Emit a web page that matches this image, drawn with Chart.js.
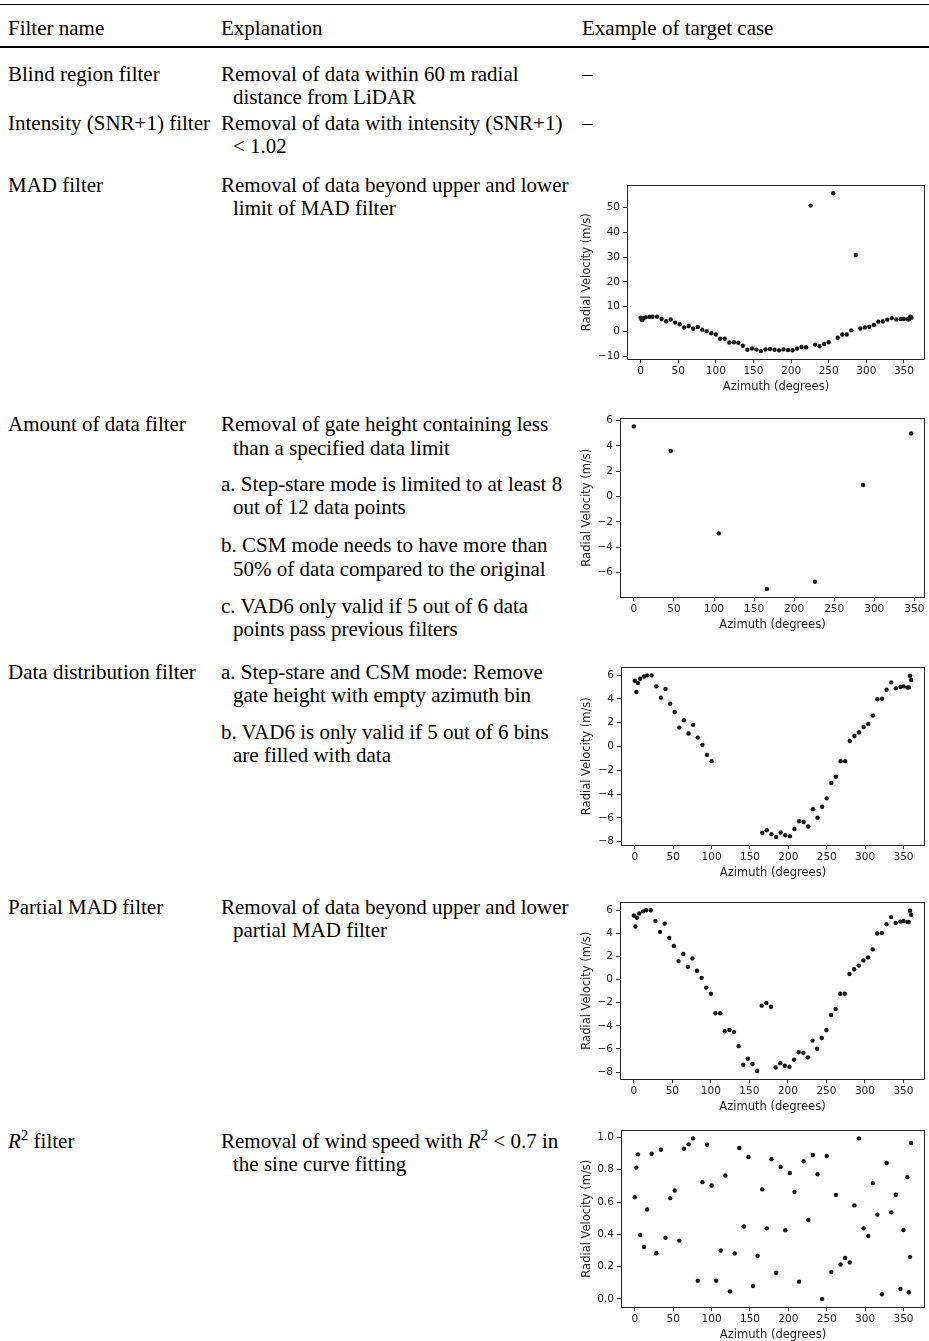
<!DOCTYPE html>
<html>
<head>
<meta charset="utf-8">
<script src="https://cdn.jsdelivr.net/npm/chart.js@4.4.1/dist/chart.umd.min.js"></script>
<style>
  html, body { margin: 0; padding: 0; background: #fff; }
  #page { position: relative; width: 929px; height: 1341px; overflow: hidden;
          font-family: "Liberation Serif", "Times New Roman", serif; font-size: 21px; color: #000; }
  .t { position: absolute; white-space: nowrap; line-height: 23px; }
  .sup { position: relative; top: -8px; font-size: 15px; }
  .rule { position: absolute; left: 0; width: 929px; background: #000; }
  canvas { position: absolute; left: 575px; }
</style>
</head>
<body>
<div id="page">
  <div class="rule" style="top:4px;height:1px"></div>
  <div class="t" style="left:8px;top:17px">Filter name</div>
  <div class="t" style="left:221px;top:17px">Explanation</div>
  <div class="t" style="left:582px;top:17px">Example of target case</div>
  <div class="rule" style="top:46px;height:2px"></div>

  <div class="t" style="left:8px;top:63px">Blind region filter</div>
  <div class="t" style="left:221px;top:63px">Removal of data within 60&#8201;m radial</div>
  <div class="t" style="left:233px;top:86px">distance from LiDAR</div>
  <div class="t" style="left:582px;top:63px">&ndash;</div>

  <div class="t" style="left:8px;top:112px">Intensity (SNR+1) filter</div>
  <div class="t" style="left:221px;top:112px">Removal of data with intensity (SNR+1)</div>
  <div class="t" style="left:233px;top:135px">&lt; 1.02</div>
  <div class="t" style="left:582px;top:112px">&ndash;</div>

  <div class="t" style="left:8px;top:174px">MAD filter</div>
  <div class="t" style="left:221px;top:174px">Removal of data beyond upper and lower</div>
  <div class="t" style="left:233px;top:197px">limit of MAD filter</div>

  <div class="t" style="left:8px;top:413px">Amount of data filter</div>
  <div class="t" style="left:221px;top:413px">Removal of gate height containing less</div>
  <div class="t" style="left:233px;top:437px">than a specified data limit</div>
  <div class="t" style="left:221px;top:473px">a. Step-stare mode is limited to at least 8</div>
  <div class="t" style="left:233px;top:496px">out of 12 data points</div>
  <div class="t" style="left:221px;top:534px">b. CSM mode needs to have more than</div>
  <div class="t" style="left:233px;top:558px">50% of data compared to the original</div>
  <div class="t" style="left:221px;top:595px">c. VAD6 only valid if 5 out of 6 data</div>
  <div class="t" style="left:233px;top:618px">points pass previous filters</div>

  <div class="t" style="left:8px;top:661px">Data distribution filter</div>
  <div class="t" style="left:221px;top:661px">a. Step-stare and CSM mode: Remove</div>
  <div class="t" style="left:233px;top:684px">gate height with empty azimuth bin</div>
  <div class="t" style="left:221px;top:721px">b. VAD6 is only valid if 5 out of 6 bins</div>
  <div class="t" style="left:233px;top:744px">are filled with data</div>

  <div class="t" style="left:8px;top:896px">Partial MAD filter</div>
  <div class="t" style="left:221px;top:896px">Removal of data beyond upper and lower</div>
  <div class="t" style="left:233px;top:919px">partial MAD filter</div>

  <div class="t" style="left:8px;top:1130px"><i>R</i><span class="sup">2</span> filter</div>
  <div class="t" style="left:221px;top:1130px">Removal of wind speed with <i>R</i><span class="sup">2</span> &lt; 0.7 in</div>
  <div class="t" style="left:233px;top:1153px">the sine curve fitting</div>

  <canvas id="mad" width="354" height="218" style="top:176px"></canvas>
  <canvas id="amount" width="354" height="223" style="top:409px"></canvas>
  <canvas id="dist" width="354" height="222" style="top:658px"></canvas>
  <canvas id="partial" width="354" height="221" style="top:893px"></canvas>
  <canvas id="r2" width="354" height="221" style="top:1121px"></canvas>
</div>

<script>
// azimuth of every beam (degrees)
const azimuth = [0, 2, 4, 7, 12, 16, 22, 28, 34, 40, 46, 52, 58, 64, 70, 76, 82, 88, 94, 100,
  106, 112, 118, 124, 130, 136, 142, 148, 154, 160, 166, 172, 178, 184, 190, 196, 202, 208, 214, 220,
  226, 232, 238, 244, 250, 256, 262, 268, 274, 280, 286, 292, 298, 304, 310, 316, 322, 328, 334, 340,
  346, 350, 355, 357, 358.5, 360];

// MAD filter example (with 3 spikes)
const madVelocity = [5.53, 4.58, 5.34, 5.70, 5.89, 5.98, 5.98, 5.06, 4.11, 4.83, 3.60, 2.90, 1.59, 2.21, 1.09, 1.82, 0.75, 0.14, -0.70, -1.23,
  -2.92, -2.92, -4.47, -4.36, -4.53, -5.76, -7.37, -6.85, -7.31, -7.91, -7.26, -7.04, -7.37, -7.60, -7.23, -7.46, -7.54, -6.93, -6.28, -6.34,
  50.8, -5.28, -5.98, -5.06, -4.36, 55.8, -2.54, -1.23, -1.23, 0.47, 30.9, 1.20, 1.65, 1.90, 2.60, 3.97, 4.02, 4.78, 5.39, 4.89,
  5.00, 5.06, 4.97, 4.97, 5.95, 5.59];

// amount of data example (step-stare, 7 beams)
const amountAzimuth = [0, 46, 106, 166, 226, 286, 346];
const amountVelocity = [5.53, 3.60, -2.92, -7.30, -6.74, 0.90, 4.97];

// data distribution example (empty bin between 100 and 166)
const distVelocity = [5.53, 4.58, 5.34, 5.70, 5.89, 5.98, 5.98, 5.06, 4.11, 4.83, 3.60, 2.90, 1.59, 2.21, 1.09, 1.82, 0.75, 0.14, -0.70, -1.23,
  null, null, null, null, null, null, null, null, null, null, -7.26, -7.04, -7.37, -7.60, -7.23, -7.46, -7.54, -6.93, -6.28, -6.34,
  -6.73, -5.28, -5.98, -5.06, -4.36, -3.07, -2.54, -1.23, -1.23, 0.47, 0.89, 1.20, 1.65, 1.90, 2.60, 3.97, 4.02, 4.78, 5.39, 4.89,
  5.00, 5.06, 4.97, 4.97, 5.95, 5.59];

// partial MAD example (local bump near 170)
const partialVelocity = [5.53, 4.58, 5.34, 5.70, 5.89, 5.98, 5.98, 5.06, 4.11, 4.83, 3.60, 2.90, 1.59, 2.21, 1.09, 1.82, 0.75, 0.14, -0.70, -1.23,
  -2.92, -2.92, -4.47, -4.36, -4.53, -5.76, -7.37, -6.85, -7.31, -7.91, -2.26, -2.03, -2.35, -7.60, -7.23, -7.46, -7.54, -6.93, -6.28, -6.34,
  -6.73, -5.28, -5.98, -5.06, -4.36, -3.07, -2.54, -1.23, -1.23, 0.47, 0.89, 1.20, 1.65, 1.90, 2.60, 3.97, 4.02, 4.78, 5.39, 4.89,
  5.00, 5.06, 4.97, 4.97, 5.95, 5.59];

// R2 filter example
const r2Velocity = [0.630, 0.813, 0.895, 0.396, 0.322, 0.554, 0.899, 0.283, 0.924, 0.378, 0.624, 0.671, 0.361, 0.930, 0.957, 0.994, 0.113, 0.723, 0.955, 0.702,
  0.113, 0.300, 0.764, 0.047, 0.281, 0.934, 0.448, 0.879, 0.080, 0.267, 0.678, 0.437, 0.865, 0.162, 0.817, 0.425, 0.780, 0.663, 0.107, 0.852,
  0.489, 0.891, 0.772, 0.000, 0.885, 0.166, 0.643, 0.213, 0.253, 0.226, 0.579, 0.994, 0.437, 0.390, 0.717, 0.522, 0.029, 0.842, 0.536, 0.645,
  0.062, 0.427, 0.754, 0.041, 0.259, 0.965];

const xTicks = [0, 50, 100, 150, 200, 250, 300, 350];
const madTicks = [-10, 0, 10, 20, 30, 40, 50];
const amountTicks = [-6, -4, -2, 0, 2, 4, 6];
const distTicks = [-8, -6, -4, -2, 0, 2, 4, 6];
const r2Ticks = [0, 0.2, 0.4, 0.6, 0.8, 1.0];

const axisColor = '#222';
const tickFont = { family: 'DejaVu Sans', size: 10.5 };
const titleFont = { family: 'DejaVu Sans', size: 11.5 };

// matplotlib style box round the plot
const frame = {
  id: 'frame',
  afterDraw(chart) {
    const { ctx, chartArea: a } = chart;
    ctx.save();
    ctx.strokeStyle = axisColor;
    ctx.lineWidth = 1;
    ctx.strokeRect(Math.round(a.left) + 0.5, Math.round(a.top) + 0.5,
      Math.round(a.right - a.left) - 1, Math.round(a.bottom - a.top));
    ctx.restore();
  }
};

const minus = s => s.replace('-', '\u2212');

function scatter(id, xs, ys, xRange, yRange, yTicks, yWidth, decimals) {
  const pts = [];
  xs.forEach((x, i) => { if (ys[i] !== null) pts.push({ x: x, y: ys[i] }); });

  new Chart(document.getElementById(id), {
    type: 'scatter',
    data: {
      datasets: [{
        data: pts,
        pointRadius: 2.2,
        pointHoverRadius: 2.2,
        backgroundColor: '#141414',
        borderWidth: 0
      }]
    },
    options: {
      responsive: false,
      animation: false,
      devicePixelRatio: 1,
      layout: { padding: { top: 8, right: 4, left: 0, bottom: 0 } },
      plugins: { legend: { display: false }, tooltip: { enabled: false } },
      scales: {
        x: {
          type: 'linear',
          min: xRange[0],
          max: xRange[1],
          afterBuildTicks: a => { a.ticks = xTicks.map(v => ({ value: v })); },
          afterFit: a => { a.height = 35; },
          grid: { drawOnChartArea: false, drawTicks: true, tickLength: 4, color: axisColor },
          border: { display: false },
          ticks: { font: tickFont, color: axisColor, padding: 2, maxRotation: 0, autoSkip: false,
                   callback: v => minus(String(v)) },
          title: { display: true, text: 'Azimuth (degrees)', font: titleFont, color: axisColor, padding: { top: 0, bottom: 0 } }
        },
        y: {
          type: 'linear',
          min: yRange[0],
          max: yRange[1],
          afterBuildTicks: a => { a.ticks = yTicks.map(v => ({ value: v })); },
          afterFit: a => { a.width = yWidth; },
          grid: { drawOnChartArea: false, drawTicks: true, tickLength: 4, color: axisColor },
          border: { display: false },
          ticks: { font: tickFont, color: axisColor, padding: 3, autoSkip: false,
                   callback: v => minus(decimals ? Number(v).toFixed(decimals) : String(v)) },
          title: { display: true, text: 'Radial Velocity (m/s)', font: titleFont, color: axisColor, padding: { top: 5, bottom: 0 } }
        }
      }
    },
    plugins: [frame]
  });
}

scatter('mad', azimuth, madVelocity, [-18, 378], [-11.1, 59.0], madTicks, 52, 0);
scatter('amount', amountAzimuth, amountVelocity, [-17.3, 363.3], [-7.94, 6.17], amountTicks, 45, 0);
scatter('dist', azimuth, distVelocity, [-18, 378], [-8.28, 6.66], distTicks, 46, 0);
scatter('partial', azimuth, partialVelocity, [-18, 378], [-8.60, 6.67], distTicks, 45, 0);
scatter('r2', azimuth, r2Velocity, [-18, 378], [-0.05, 1.044], r2Ticks, 46, 1);
</script>
</body>
</html>
